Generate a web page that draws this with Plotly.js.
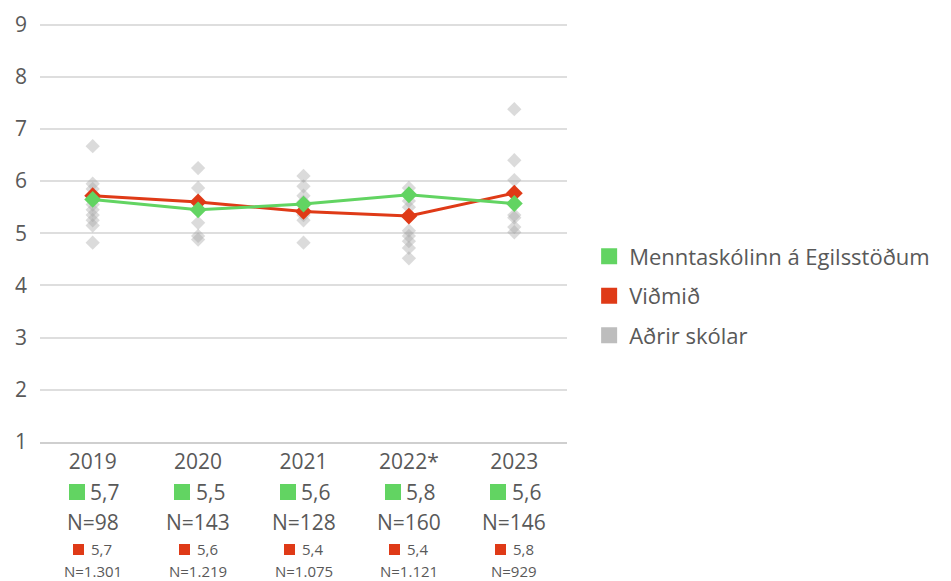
<!DOCTYPE html>
<html><head><meta charset="utf-8">
<script src="https://cdn.plot.ly/plotly-3.0.1.min.js"></script>
<style>html,body{margin:0;padding:0;background:#fff}</style>
</head><body><div id="chart" style="width:951px;height:581px"></div>
<script>
const years = ['2019','2020','2021','2022*','2023'];
const schoolValues = [5.65, 5.45, 5.56, 5.74, 5.57];
const benchmarkValues = [5.72, 5.60, 5.42, 5.33, 5.77];
const schoolLabels = ['5,7','5,5','5,6','5,8','5,6'];
const schoolN = ['98','143','128','160','146'];
const benchmarkLabels = ['5,7','5,6','5,4','5,4','5,8'];
const benchmarkN = ['1.301','1.219','1.075','1.121','929'];
const otherSchools2019 = [6.67, 5.95, 5.85, 5.55, 5.45, 5.35, 5.25, 5.15, 4.82];
const otherSchools2020 = [6.25, 5.87, 5.20, 4.95, 4.88];
const otherSchools2021 = [6.10, 5.90, 5.72, 5.60, 5.35, 5.25, 4.82];
const otherSchools2022 = [5.87, 5.62, 5.50, 5.05, 4.95, 4.85, 4.72, 4.52];
const otherSchools2023 = [7.38, 6.40, 6.02, 5.35, 5.30, 5.12, 5.02];
const seriesNames = ['Menntaskólinn á Egilsstöðum','Viðmið','Aðrir skólar'];

const GREEN = '#62d462', RED = '#df3a17', GRAY = 'rgba(165,165,165,0.4)';
const TXT = '#595959';
const FONT = 'Open Sans, sans-serif';

const others = [otherSchools2019, otherSchools2020, otherSchools2021, otherSchools2022, otherSchools2023];
const gx = [], gy = [];
others.forEach((arr, i) => arr.forEach(v => { gx.push(i); gy.push(v); }));
const xi = years.map((_, i) => i);

const traces = [
  {x: gx, y: gy, type: 'scatter', mode: 'markers', showlegend: false, hoverinfo: 'skip',
   marker: {symbol: 'diamond', size: 11, color: GRAY}},
  {x: xi, y: benchmarkValues, type: 'scatter', mode: 'lines+markers', showlegend: false,
   line: {color: RED, width: 3}, marker: {symbol: 'diamond', size: 13, color: RED}},
  {x: xi, y: schoolValues, type: 'scatter', mode: 'lines+markers', showlegend: false,
   line: {color: GREEN, width: 3}, marker: {symbol: 'diamond', size: 13, color: GREEN}},
  {x: [null], y: [null], type: 'scatter', mode: 'markers', name: seriesNames[0], legendgroup: 'a',
   marker: {symbol: 'square', size: 16, color: GREEN}},
  {x: [null], y: [null], type: 'scatter', mode: 'markers', name: seriesNames[1], legendgroup: 'b',
   marker: {symbol: 'square', size: 16, color: RED}},
  {x: [null], y: [null], type: 'scatter', mode: 'markers', name: seriesNames[2], legendgroup: 'c',
   marker: {symbol: 'square', size: 16, color: '#bdbdbd'}}
];

const annotations = [];
function ann(i, text, size, color, yshift, xshift) {
  annotations.push({x: i, xref: 'x', y: 0, yref: 'paper', yanchor: 'middle', xanchor: 'center',
    yshift: yshift, xshift: xshift, showarrow: false, text: text,
    font: {size: size, color: color, family: FONT}});
}
function box(i, color, side, yshift, xshift) {
  annotations.push({x: i, xref: 'x', y: 0, yref: 'paper', yanchor: 'middle', xanchor: 'center',
    yshift: yshift, xshift: xshift, showarrow: false, text: ' ', width: side, height: side,
    bgcolor: color, borderpad: 0, borderwidth: 0, font: {size: 4}});
}
years.forEach((yr, i) => {
  box(i, GREEN, 16, -50, -16);
  ann(i, schoolLabels[i], 21, TXT, -50, 12);
  ann(i, `N=${schoolN[i]}`, 21, TXT, -80, 0);
  box(i, RED, 11, -107, -14);
  ann(i, benchmarkLabels[i], 15, TXT, -107, 9);
  ann(i, `N=${benchmarkN[i]}`, 15, TXT, -129, 0);
});

const layout = {
  width: 951, height: 581,
  margin: {l: 40, r: 384, t: 22, b: 139},
  paper_bgcolor: '#fff', plot_bgcolor: '#fff',
  font: {family: FONT, color: TXT},
  showlegend: true,
  legend: {x: 1.042, xanchor: 'left', y: 0.348, yanchor: 'middle', font: {size: 22, color: TXT, family: FONT},
    tracegroupgap: 8, traceorder: 'grouped', itemsizing: 'trace'},
  xaxis: {range: [-0.5, 4.5], tickvals: xi, ticktext: years, showgrid: false, zeroline: false,
    showline: true, linecolor: '#cfcfcf', linewidth: 2, ticks: '', tickfont: {size: 21, color: TXT}, fixedrange: true},
  yaxis: {range: [1, 9.05], dtick: 1, tick0: 1, showgrid: true, gridcolor: '#dedede', gridwidth: 2,
    zeroline: false, showline: false, ticks: '', ticklabelstandoff: 12, tickfont: {size: 21, color: TXT}, fixedrange: true},
  annotations: annotations
};

Plotly.newPlot('chart', traces, layout, {displayModeBar: false, staticPlot: true});
</script></body></html>
